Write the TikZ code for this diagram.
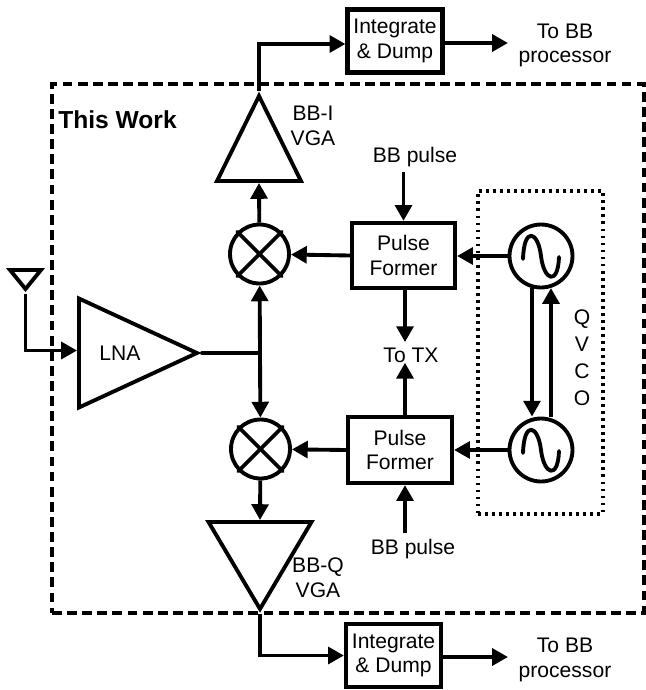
\documentclass[tikz,border=0pt]{standalone}
\usepackage{fontspec}
\setmainfont{Liberation Sans}
\usetikzlibrary{shapes.geometric, arrows.meta, positioning, calc}
\tikzset{
  wire/.style={line width=2.2pt, line cap=round, line join=round},
  arrow/.style={-{Triangle[length=9pt,width=9.5pt]}, line width=2.2pt},
  ampshape/.style={isosceles triangle, isosceles triangle stretches, draw, line width=2.2pt,
    inner sep=0pt, line join=miter},
  block/.style={rectangle, draw, line width=2.4pt, align=center, font=\lbl},
  mixnode/.style={circle, draw, line width=2.2pt, minimum size=1.18cm, inner sep=0pt},
  osc/.style={circle, draw, line width=2.2pt, minimum size=1.26cm, inner sep=0pt},
  lab/.style={align=center, font=\lbl, inner sep=0pt}
}
\newcommand{\lbl}{\fontsize{12}{14}\selectfont}
\begin{document}
\begin{tikzpicture}[x=0.02cm, y=-0.02cm]
  \useasboundingbox (0,0) rectangle (646,690);

  % Enclosures
  \node[draw, line width=1.8pt, dash pattern=on 5.6pt off 3pt, minimum width=11.84cm, minimum height=10.58cm] (work) at (348,348.5) {};
  \node[draw, line width=1.8pt, dash pattern=on 1.6pt off 2.4pt, minimum width=2.5cm, minimum height=6.46cm] (qvco) at (540.5,352.5) {};
  \node[font=\fontsize{14}{16}\selectfont\bfseries, inner sep=0pt] (worklab) at (117.5,120) {This Work};
  \node[lab] (qvcolab) at (582,358) {Q\\[1.4pt]V\\[1.4pt]C\\[1.4pt]O};

  % Amplifiers
  \node[ampshape, shape border rotate=-90, anchor=apex, minimum width=0.62cm, minimum height=0.38cm] (ant) at (25.5,294) {};
  \node[ampshape, anchor=apex, minimum width=2.18cm, minimum height=2.36cm] (lna) at (202,353) {};
  \node[lab] (lnalab) at (120,353) {LNA};
  \node[ampshape, shape border rotate=90, anchor=apex, minimum width=1.68cm, minimum height=1.7cm] (vgai) at (259,91) {};
  \node[ampshape, shape border rotate=-90, anchor=apex, minimum width=2.06cm, minimum height=1.74cm] (vgaq) at (260,614) {};
  \node[lab] (vgailab) at (313,126) {BB-I\\VGA};
  \node[lab] (vgaqlab) at (318,578) {BB-Q\\VGA};

  % Mixers
  \node[mixnode] (mixa) at (259.5,254) {};
  \node[mixnode] (mixb) at (260.5,449) {};
  \foreach \m in {mixa,mixb} {
    \draw[wire] (\m.north west) -- (\m.south east);
    \draw[wire] (\m.north east) -- (\m.south west);
  }

  % Pulse formers
  \node[block, minimum width=2.06cm, minimum height=1.3cm] (pfa) at (403.5,255.5) {Pulse\\Former};
  \node[block, minimum width=2.08cm, minimum height=1.32cm] (pfb) at (400,450) {Pulse\\Former};
  \node[lab] (bba) at (415,157) {BB pulse};
  \node[lab] (bbb) at (413,549) {BB pulse};
  \node[lab] (totx) at (411,355) {To TX};

  % Oscillators
  \node[osc] (vcoa) at (541,256) {};
  \node[osc] (vcob) at (541,450) {};
  \foreach \o in {vcoa,vcob}
    \draw[wire] ([shift={(-18,3)}]\o.center) .. controls ([shift={(-17,-30)}]\o.center) and ([shift={(-3,-25)}]\o.center) .. (\o.center)
      .. controls ([shift={(3,25)}]\o.center) and ([shift={(17,30)}]\o.center) .. ([shift={(18,1)}]\o.center);

  % Integrators
  \node[block, minimum width=1.84cm, minimum height=1.26cm] (inta) at (395,41) {Integrate\\\& Dump};
  \node[block, minimum width=1.86cm, minimum height=1.26cm] (intb) at (393.5,655.5) {Integrate\\\& Dump};
  \node[lab] (outa) at (565,45.5) {To BB\\processor};
  \node[lab] (outb) at (565,660) {To BB\\processor};

  % Free ends
  \coordinate (jct) at (260,353);
  \coordinate (enda) at (508,43);
  \coordinate (endb) at (508,657);
  \coordinate (vcoat) at (532,288);
  \coordinate (vcobt) at (551,288);

  % Links
  \draw[arrow] (ant.apex) |- ([yshift=0.05cm]lna.lower side);
  \draw[wire] (lna.apex) -- (jct);
  \draw[arrow] (jct) -- (mixa);
  \draw[arrow] (jct) -- (mixb);
  \draw[arrow] (mixa) -- (vgai.lower side);
  \draw[arrow] (mixb) -- (vgaq.lower side);
  \draw[arrow] (vgai.apex) |- ([yshift=-0.06cm]inta.west);
  \draw[arrow] (vgaq.apex) |- (intb.west);
  \draw[arrow] (inta.east |- enda) -- (enda);
  \draw[arrow] (intb.east |- endb) -- (endb);
  \draw[arrow] (pfa.west) -- (mixa);
  \draw[arrow] (pfb.west) -- (mixb);
  \draw[arrow] (pfa.north |- bba.south) ++(0,5) -- (pfa.north);
  \draw[arrow] (pfa.south -| totx.north) ++(-6,0) -- ++(0,52);
  \draw[arrow] ([xshift=0.1cm]pfb.north) -- ([xshift=0.1cm]pfb.north |- totx.south);
  \draw[arrow] ([xshift=0.1cm]pfb.south |- bbb.north) ++(0,-6) -- ([xshift=0.1cm]pfb.south);
  \draw[arrow] (vcoa.west) -- (pfa.east |- vcoa.west);
  \draw[arrow] (vcob.west) -- (pfb.east |- vcob.west);
  \draw[arrow] (vcoat) -- (vcoat |- vcob.north);
  \draw[arrow] (vcobt |- vcob.north) -- (vcobt);
\end{tikzpicture}
\end{document}
